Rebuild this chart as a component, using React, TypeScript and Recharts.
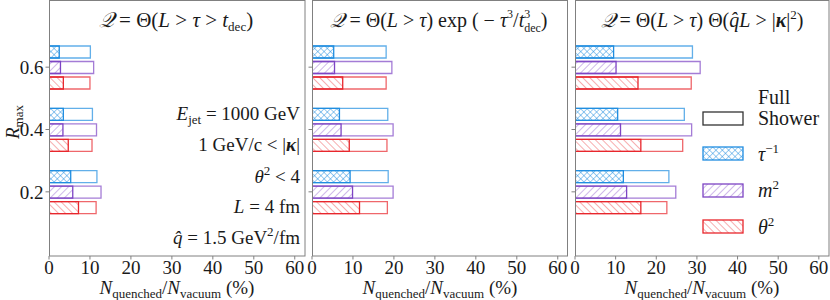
import React from "react";
import { BarChart, Bar, XAxis, YAxis } from "recharts";

// R_max categories, listed top to bottom
const categories = ["0.6", "0.4", "0.2"];
const xTicks = [0, 10, 20, 30, 40, 50, 60];
const xMinorTicks = [
  2, 4, 6, 8, 12, 14, 16, 18, 22, 24, 26, 28, 32, 34, 36, 38, 42, 44, 46, 48, 52, 54, 56, 58, 62,
];

// Panel 1: Q = Θ(L > τ > t_dec)
const tauFull1 = [10.1, 10.6, 11.7];
const tauPart1 = [2.5, 3.5, 5.3];
const m2Full1 = [10.9, 11.6, 12.7];
const m2Part1 = [2.8, 3.4, 5.8];
const th2Full1 = [10.0, 10.5, 11.5];
const th2Part1 = [3.5, 4.7, 7.2];

// Panel 2: Q = Θ(L > τ) exp(-τ³/t³_dec)
const tauFull2 = [18.1, 18.5, 18.6];
const tauPart2 = [5.3, 6.7, 9.3];
const m2Full2 = [19.5, 19.8, 19.8];
const m2Part2 = [5.5, 7.1, 9.9];
const th2Full2 = [18.1, 18.3, 18.4];
const th2Part2 = [7.5, 9.1, 11.6];

// Panel 3: Q = Θ(L > τ) Θ(q̂L > |κ|²)
const tauFull3 = [28.9, 26.9, 23.1];
const tauPart3 = [9.5, 10.5, 11.9];
const m2Full3 = [30.8, 28.7, 24.8];
const m2Part3 = [10.1, 11.2, 12.7];
const th2Full3 = [28.6, 26.5, 22.6];
const th2Part3 = [15.5, 16.2, 16.2];

const C = {
  tau: "#1f8de0",
  m2: "#7d44c4",
  th2: "#e8262c",
  frame: "#808080",
  text: "#1a1a1a",
};

const FONT = "Liberation Serif, Times New Roman, DejaVu Serif, serif";

function rows(
  tauFull: number[],
  tauPart: number[],
  m2Full: number[],
  m2Part: number[],
  th2Full: number[],
  th2Part: number[]
) {
  return categories.map((cat, i) => ({
    cat,
    tauFull: tauFull[i],
    tauPart: tauPart[i],
    m2Full: m2Full[i],
    m2Part: m2Part[i],
    th2Full: th2Full[i],
    th2Part: th2Part[i],
  }));
}

const data1 = rows(tauFull1, tauPart1, m2Full1, m2Part1, th2Full1, th2Part1);
const data2 = rows(tauFull2, tauPart2, m2Full2, m2Part2, th2Full2, th2Part2);
const data3 = rows(tauFull3, tauPart3, m2Full3, m2Part3, th2Full3, th2Part3);

function Hatches({ p }: { p: string }) {
  return (
    <defs>
      <pattern id={`${p}-x`} width="4.5" height="4.5" patternUnits="userSpaceOnUse" patternTransform="rotate(45)">
        <line x1="0" y1="0" x2="0" y2="4.5" stroke={C.tau} strokeWidth="0.9" />
        <line x1="0" y1="0" x2="4.5" y2="0" stroke={C.tau} strokeWidth="0.9" />
      </pattern>
      <pattern id={`${p}-f`} width="5" height="5" patternUnits="userSpaceOnUse" patternTransform="rotate(45)">
        <line x1="0" y1="0" x2="0" y2="5" stroke={C.m2} strokeWidth="0.9" strokeOpacity="0.85" />
      </pattern>
      <pattern id={`${p}-b`} width="5" height="5" patternUnits="userSpaceOnUse" patternTransform="rotate(-45)">
        <line x1="0" y1="0" x2="0" y2="5" stroke={C.th2} strokeWidth="0.9" strokeOpacity="0.85" />
      </pattern>
    </defs>
  );
}

const tickStyle = { fontSize: 19, fill: C.text, fontFamily: FONT };

function Panel({
  data,
  id,
  left,
  width,
  yWidth,
  labels,
}: {
  data: ReturnType<typeof rows>;
  id: string;
  left: number;
  width: number;
  yWidth: number;
  labels: boolean;
}) {
  const pad = { top: 35, bottom: 33 };
  const full = { fill: "none", strokeWidth: 1.3, strokeOpacity: 0.7, barSize: 12, isAnimationActive: false };
  const part = { strokeWidth: 1.3, barSize: 12, isAnimationActive: false };
  return (
    <div style={{ position: "absolute", left, top: 0 }}>
      <BarChart
        width={width}
        height={300}
        data={data}
        layout="vertical"
        barGap={3.5}
        margin={{ top: 1, right: 0, bottom: 0, left: 0 }}
      >
        <Hatches p={id} />
        <XAxis
          type="number"
          domain={[0, 62.5]}
          ticks={xTicks}
          height={44}
          axisLine={false}
          tickSize={3.5}
          tickMargin={1}
          tickLine={{ stroke: C.frame }}
          tick={tickStyle}
          allowDataOverflow
        />
        <XAxis
          xAxisId="minor"
          type="number"
          domain={[0, 62.5]}
          ticks={xMinorTicks}
          height={0}
          axisLine={false}
          tickSize={2}
          tickLine={{ stroke: C.frame }}
          tick={false}
          allowDataOverflow
        />
        <YAxis
          yAxisId="full"
          type="category"
          dataKey="cat"
          width={yWidth}
          padding={pad}
          axisLine={false}
          tickSize={3.5}
          tickLine={{ stroke: C.frame }}
          tick={tickStyle}
          tickFormatter={(v: string) => (labels ? v : "")}
        />
        <YAxis yAxisId="part" type="category" dataKey="cat" hide padding={pad} />
        <Bar yAxisId="full" dataKey="tauFull" stroke={C.tau} {...full} />
        <Bar yAxisId="full" dataKey="m2Full" stroke={C.m2} {...full} />
        <Bar yAxisId="full" dataKey="th2Full" stroke={C.th2} {...full} />
        <Bar yAxisId="part" dataKey="tauPart" stroke={C.tau} fill={`url(#${id}-x)`} {...part} />
        <Bar yAxisId="part" dataKey="m2Part" stroke={C.m2} fill={`url(#${id}-f)`} {...part} />
        <Bar yAxisId="part" dataKey="th2Part" stroke={C.th2} fill={`url(#${id}-b)`} {...part} />
      </BarChart>
    </div>
  );
}

const it = { fontStyle: "italic" as const };

function XLabel({ x }: { x: number }) {
  return (
    <text x={x} y={294} textAnchor="middle" fontSize={19}>
      <tspan style={it}>N</tspan>
      <tspan dy={4} fontSize={13}>quenched</tspan>
      <tspan dy={-4}>/</tspan>
      <tspan style={it}>N</tspan>
      <tspan dy={4} fontSize={13}>vacuum</tspan>
      <tspan dy={-4}> (%)</tspan>
    </text>
  );
}

function LegendRow({ y, fill, stroke }: { y: number; fill: string; stroke: string }) {
  return <rect x={703} y={y} width={40} height={13} fill={fill} stroke={stroke} strokeWidth={1.3} />;
}

function Overlay() {
  return (
    <svg
      width={830}
      height={300}
      style={{ position: "absolute", left: 0, top: 0, pointerEvents: "none", fontFamily: FONT }}
      fill={C.text}
    >
      <Hatches p="lg" />
      {/* panel frames */}
      <rect x={49.5} y={0.5} width={255.5} height={255.5} fill="none" stroke={C.frame} />
      <rect x={312.5} y={0.5} width={255} height={255.5} fill="none" stroke={C.frame} />
      <rect x={575.5} y={0.5} width={253.5} height={255.5} fill="none" stroke={C.frame} />

      {/* titles */}
      <text x={176} y={27} textAnchor="middle" fontSize={21}>
        <tspan style={it}>𝒬</tspan> = Θ(<tspan style={it}>L</tspan> &gt; <tspan style={it}>τ</tspan> &gt;{" "}
        <tspan style={it}>t</tspan>
        <tspan dy={4} fontSize={13}>dec</tspan>
        <tspan dy={-4}>)</tspan>
      </text>
      <text x={439} y={27} textAnchor="middle" fontSize={20}>
        <tspan style={it}>𝒬</tspan> = Θ(<tspan style={it}>L</tspan> &gt; <tspan style={it}>τ</tspan>) exp ( −{" "}
        <tspan style={it}>τ</tspan>
        <tspan dy={-9} fontSize={12}>3</tspan>
        <tspan dy={9}>/</tspan>
        <tspan style={it}>t</tspan>
        <tspan dy={-9} fontSize={12}>3</tspan>
        <tspan dx={-6} dy={14} fontSize={12}>dec</tspan>
        <tspan dy={-5}>)</tspan>
      </text>
      <text x={702} y={27} textAnchor="middle" fontSize={20}>
        <tspan style={it}>𝒬</tspan> = Θ(<tspan style={it}>L</tspan> &gt; <tspan style={it}>τ</tspan>) Θ(
        <tspan style={it}>q̂L</tspan> &gt; |<tspan fontWeight="bold" style={it}>κ</tspan>|
        <tspan dy={-8} fontSize={13}>2</tspan>
        <tspan dy={8}>)</tspan>
      </text>

      {/* parameters */}
      <g fontSize={19} textAnchor="end">
        <text x={300} y={120}>
          <tspan style={it}>E</tspan>
          <tspan dy={4} fontSize={13}>jet</tspan>
          <tspan dy={-4}> = 1000 GeV</tspan>
        </text>
        <text x={300} y={151}>
          1 GeV/c &lt; |<tspan fontWeight="bold" style={it}>κ</tspan>|
        </text>
        <text x={300} y={183}>
          <tspan style={it}>θ</tspan>
          <tspan dy={-8} fontSize={13}>2</tspan>
          <tspan dy={8}> &lt; 4</tspan>
        </text>
        <text x={300} y={213}>
          <tspan style={it}>L</tspan> = 4 fm
        </text>
        <text x={300} y={244}>
          <tspan style={it}>q̂</tspan> = 1.5 GeV
          <tspan dy={-8} fontSize={13}>2</tspan>
          <tspan dy={8}>/fm</tspan>
        </text>
      </g>

      {/* axis labels */}
      <XLabel x={177} />
      <XLabel x={440} />
      <XLabel x={702} />
      <text transform="translate(19,122) rotate(-90)" textAnchor="middle" fontSize={19}>
        <tspan style={it}>R</tspan>
        <tspan dy={4} fontSize={13}>max</tspan>
      </text>

      {/* legend */}
      <LegendRow y={112} fill="none" stroke="#333" />
      <LegendRow y={147} fill="url(#lg-x)" stroke={C.tau} />
      <LegendRow y={184} fill="url(#lg-f)" stroke={C.m2} />
      <LegendRow y={220} fill="url(#lg-b)" stroke={C.th2} />
      <g fontSize={20}>
        <text x={758} y={104}>Full</text>
        <text x={758} y={125}>Shower</text>
        <text x={758} y={161}>
          <tspan style={it}>τ</tspan>
          <tspan dy={-8} fontSize={13}>−1</tspan>
        </text>
        <text x={758} y={197}>
          <tspan style={it}>m</tspan>
          <tspan dy={-8} fontSize={13}>2</tspan>
        </text>
        <text x={758} y={234}>
          <tspan style={it}>θ</tspan>
          <tspan dy={-8} fontSize={13}>2</tspan>
        </text>
      </g>
    </svg>
  );
}

export default function App() {
  return (
    <div
      style={{
        position: "absolute",
        left: 0,
        top: 0,
        width: 830,
        height: 300,
        background: "#fff",
        fontFamily: FONT,
      }}
    >
      <Panel data={data1} id="p1" left={0} width={305} yWidth={49} labels />
      <Panel data={data2} id="p2" left={305} width={263} yWidth={7} labels={false} />
      <Panel data={data3} id="p3" left={568} width={261} yWidth={7} labels={false} />
      <Overlay />
    </div>
  );
}
